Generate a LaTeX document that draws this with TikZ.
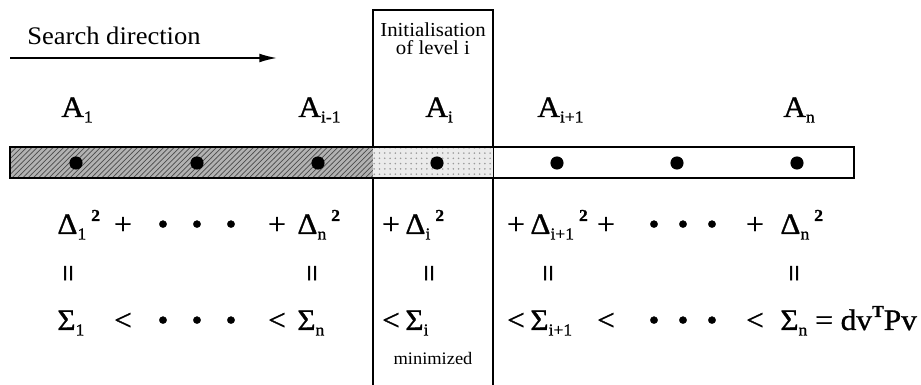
\documentclass[tikz,border=0pt]{standalone}
\usepackage{fontspec}
\setmainfont{Liberation Serif}[FakeStretch=1.05]
\newfontfamily\heavyfont{Liberation Serif}[FakeStretch=1.05,FakeBold=1]
\usetikzlibrary{arrows.meta,patterns}

\newcommand{\lowidx}[1]{\raisebox{-0.4ex}{\fontsize{9.5}{10}\selectfont #1}}
\newcommand{\highidx}[1]{\raisebox{0.95ex}{\fontsize{9.5}{10}\selectfont\bfseries #1}}

\tikzset{
  big/.style={font=\heavyfont\fontsize{17}{20}\selectfont,inner sep=0pt},
  term/.style={big,anchor=base west},
  op/.style={big,anchor=base},
  eqv/.style={font=\fontsize{17}{20}\selectfont\bfseries,inner sep=0pt,rotate=90},
  blob/.style={circle,fill=black,inner sep=0pt,minimum size=7.5pt},
  small/.style={font=\fontsize{11.3}{13}\selectfont,inner sep=0pt,anchor=base},
}

\begin{document}
\begin{tikzpicture}[x=0.02cm,y=-0.02cm]
\useasboundingbox (0,0) rectangle (921,385);
% search direction
\node[font=\fontsize{14.4}{17}\selectfont,inner sep=0pt,anchor=base west] (dir) at (27,45) {Search direction};
\coordinate (s0) at (10,58);
\coordinate (s1) at (277,58);
\draw[line width=0.9pt,-{Latex[length=10pt,width=5pt]}] (s0) -- (s1);
% level i box
\draw[line width=1.1pt] (373,385) -- (373,10) -- (493,10) -- (493,385);
\node[small] (ini1) at (433,37) {Initialisation};
\node[small] (ini2) at (433,55) {of level i};
\node[small,font=\fontsize{10}{12}\selectfont] (mini) at (433,364) {minimized};
% levels
\node[term] (a1) at (61,117) {A\lowidx{1}};
\node[term] (aim) at (298,117) {A\lowidx{i-1}};
\node[term] (ai) at (425,117) {A\lowidx{i}};
\node[term] (aip) at (537,117) {A\lowidx{i+1}};
\node[term] (an) at (783,117) {A\lowidx{n}};
% bar
\fill[black!30] (10,147) rectangle (373,178);
\fill[pattern=north east lines,pattern color=black!70] (10,147) rectangle (373,178);
\fill[black!8] (373,147) rectangle (493,178);
\fill[pattern=dots,pattern color=black!40] (373,147) rectangle (493,178);
\draw[line width=0.8pt] (10,147) rectangle (854,178);
\foreach \x [count=\k] in {76,197,318,437,557,677,797}
  \node[blob] (d\k) at (\x,163) {};
% sums of squares
\node[term] (q1) at (57,234) {Δ\lowidx{1}\,\highidx{2}};
\node[op] at (123,234) {+};
\node[op] at (277,234) {+};
\node[term] (qn) at (297,234) {Δ\lowidx{n}\,\highidx{2}};
\node[op] at (391,234) {+};
\node[term] (qi) at (405,234) {Δ\lowidx{i}\,\highidx{2}};
\node[op] at (516,234) {+};
\node[term] (qip) at (530,234) {Δ\lowidx{i+1}\,\highidx{2}};
\node[op] at (606,234) {+};
\node[op] at (755,234) {+};
\node[term] (qnn) at (780,234) {Δ\lowidx{n}\,\highidx{2}};
\foreach \x [count=\k] in {163,197,231,654,683,712}
  \node[op] (u\k) at (\x,234) {•};
% equalities
\foreach \x [count=\k] in {72,316,433,552,798}
  \node[eqv] (e\k) at (\x,274) {=};
% partial sums
\node[term] (s1n) at (57,330) {Σ\lowidx{1}};
\node[op] at (123,330) {<};
\node[op] at (277,330) {<};
\node[term] (sn) at (297,330) {Σ\lowidx{n}};
\node[op] at (391,330) {<};
\node[term] (si) at (405,330) {Σ\lowidx{i}};
\node[op] at (516,330) {<};
\node[term] (sip) at (530,330) {Σ\lowidx{i+1}};
\node[op] at (606,330) {<};
\node[op] at (755,330) {<};
\node[term] (snn) at (780,330) {Σ\lowidx{n} = dv\highidx{T}Pv};
\foreach \x [count=\k] in {163,197,231,654,683,712}
  \node[op] (v\k) at (\x,330) {•};
\end{tikzpicture}
\end{document}
